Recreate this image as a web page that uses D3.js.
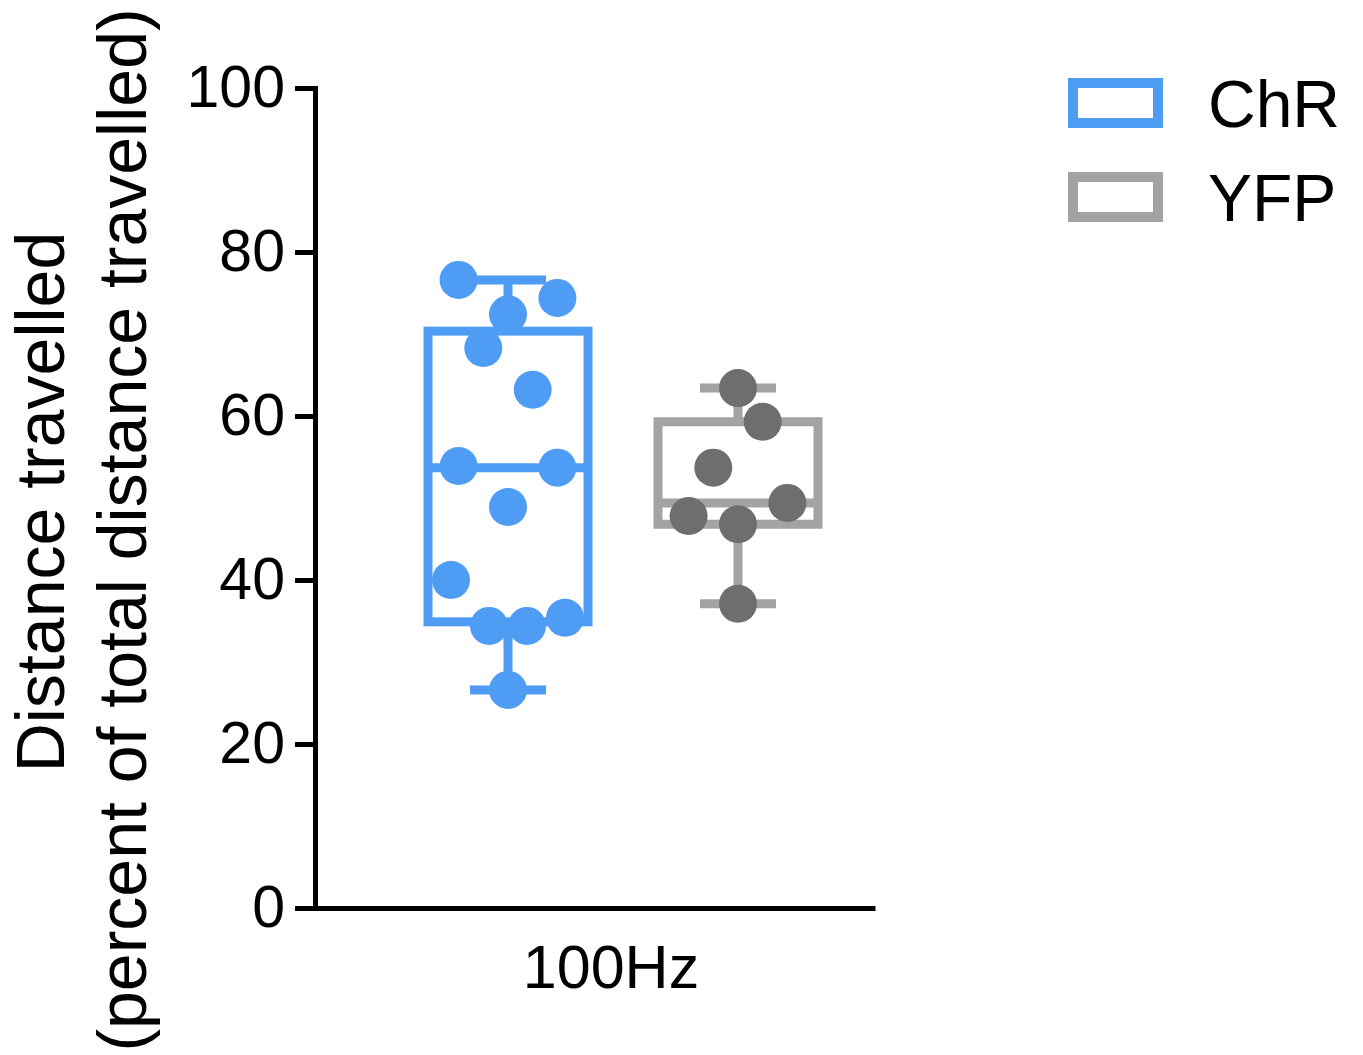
<!DOCTYPE html>
<html>
<head>
<meta charset="utf-8">
<script src="https://cdn.jsdelivr.net/npm/d3@7"></script>
<style>
  html, body { margin: 0; padding: 0; background: #fff; }
  svg { display: block; font-family: "Liberation Sans", Arial, sans-serif; }
</style>
</head>
<body>
<svg id="chart" width="1363" height="1055"></svg>
<script>
// ---- data ----
const categories = ["ChR", "YFP"];
const chrValues = [76.6, 72.4, 74.4, 68.3, 63.2, 53.9, 48.9, 53.7, 40.0, 34.4, 34.4, 35.4, 26.6];
const yfpValues = [63.4, 53.7, 59.3, 47.8, 46.8, 49.4, 37.1];
const yTicks = [0, 20, 40, 60, 80, 100];
const xLabel = "100Hz";
const yLabelLine1 = "Distance travelled";
const yLabelLine2 = "(percent of total distance travelled)";

const seriesValues = { ChR: chrValues, YFP: yfpValues };
const boxColors = { ChR: "#4f9cf4", YFP: "#a3a3a3" };
const dotColors = { ChR: "#4f9cf4", YFP: "#6e6e6e" };

// ---- layout ----
const svg = d3.select("#chart");
const axisX0 = 315, axisX1 = 875, axisY0 = 908, axisY1 = 88;
const y = d3.scaleLinear().domain([0, 100]).range([axisY0, axisY1]);
const x = d3.scalePoint().domain(categories).range([508, 738]);
const boxHalf = 80, capHalf = 38, lineW = 9, r = 19;

// Prism-style quantile ((n+1)p)
function quant(sorted, p) {
  const n = sorted.length;
  const pos = (n + 1) * p;
  const lo = Math.floor(pos), hi = Math.ceil(pos);
  const a = sorted[Math.max(0, Math.min(n - 1, lo - 1))];
  const b = sorted[Math.max(0, Math.min(n - 1, hi - 1))];
  return a + (b - a) * (pos - lo);
}

// row-based scatter layout (bottom-up grouping)
function layout(values) {
  const items = values.map((v, i) => ({ v, i }));
  const asc = items.slice().sort((a, b) => a.v - b.v || a.i - b.i);
  const groups = [];
  let k = 0;
  while (k < asc.length) {
    const start = asc[k].v;
    const g = [];
    while (k < asc.length && asc[k].v - start <= 6) { g.push(asc[k]); k++; }
    groups.push(g);
  }
  groups.forEach(g => {
    g.sort((a, b) => a.i - b.i);
    const n = g.length;
    const sp = n > 1 ? Math.min(2.6 * r, 6 * r / (n - 1)) : 0;
    g.forEach((d, j) => { d.dx = (j - (n - 1) / 2) * sp; });
  });
  return items;
}

// ---- axes ----
const yAxis = d3.axisLeft(y).tickValues(yTicks).tickSize(20).tickPadding(10).tickSizeOuter(0);
const gy = svg.append("g").attr("transform", `translate(${axisX0},0)`).call(yAxis);
gy.selectAll("path, line").attr("stroke", "#000").attr("stroke-width", 5);
gy.select(".domain").attr("stroke-linecap", "square");
gy.selectAll("text").attr("font-size", 59).attr("fill", "#000")
  .attr("font-family", "Liberation Sans, Arial, sans-serif");

const xScaleLine = d3.scaleLinear().domain([0, 1]).range([axisX0, axisX1]);
const gx = svg.append("g").attr("transform", `translate(0,${axisY0})`)
  .call(d3.axisBottom(xScaleLine).tickValues([]).tickSizeOuter(0));
gx.select(".domain").attr("stroke", "#000").attr("stroke-width", 5);

svg.append("text").attr("x", 611).attr("y", 988).attr("text-anchor", "middle")
  .attr("font-size", 61).text(xLabel);

svg.append("text").attr("transform", "translate(64,502) rotate(-90)")
  .attr("text-anchor", "middle").attr("font-size", 68).text(yLabelLine1);
svg.append("text").attr("transform", "translate(146,530) rotate(-90)")
  .attr("text-anchor", "middle").attr("font-size", 68).text(yLabelLine2);

// ---- boxes ----
categories.forEach(cat => {
  const vals = seriesValues[cat];
  const s = vals.slice().sort((a, b) => a - b);
  const q1 = quant(s, 0.25), med = quant(s, 0.5), q3 = quant(s, 0.75);
  const mn = s[0], mx = s[s.length - 1];
  const cx = x(cat);
  const col = boxColors[cat];
  const g = svg.append("g");
  // whiskers
  g.append("line").attr("x1", cx).attr("x2", cx).attr("y1", y(q3)).attr("y2", y(mx))
    .attr("stroke", col).attr("stroke-width", lineW);
  g.append("line").attr("x1", cx).attr("x2", cx).attr("y1", y(q1)).attr("y2", y(mn))
    .attr("stroke", col).attr("stroke-width", lineW);
  [mx, mn].forEach(v => g.append("line").attr("x1", cx - capHalf).attr("x2", cx + capHalf)
    .attr("y1", y(v)).attr("y2", y(v)).attr("stroke", col).attr("stroke-width", lineW));
  g.append("rect").attr("x", cx - boxHalf).attr("width", 2 * boxHalf)
    .attr("y", y(q3)).attr("height", y(q1) - y(q3))
    .attr("fill", "#fff").attr("stroke", col).attr("stroke-width", lineW);
  g.append("line").attr("x1", cx - boxHalf).attr("x2", cx + boxHalf)
    .attr("y1", y(med)).attr("y2", y(med)).attr("stroke", col).attr("stroke-width", lineW);
  // dots
  const pts = layout(vals);
  g.selectAll("circle").data(pts).join("circle")
    .attr("cx", d => cx + d.dx).attr("cy", d => y(d.v)).attr("r", r)
    .attr("fill", dotColors[cat]);
});

// ---- legend ----
const legend = svg.append("g");
categories.forEach((cat, i) => {
  const ly = 83 + i * 94;
  legend.append("rect").attr("x", 1073).attr("y", ly).attr("width", 85).attr("height", 40)
    .attr("fill", "#fff").attr("stroke", boxColors[cat]).attr("stroke-width", 10);
  legend.append("text").attr("x", 1208).attr("y", ly + 44).attr("font-size", 66)
    .attr("fill", "#000").text(cat);
});
</script>
</body>
</html>
